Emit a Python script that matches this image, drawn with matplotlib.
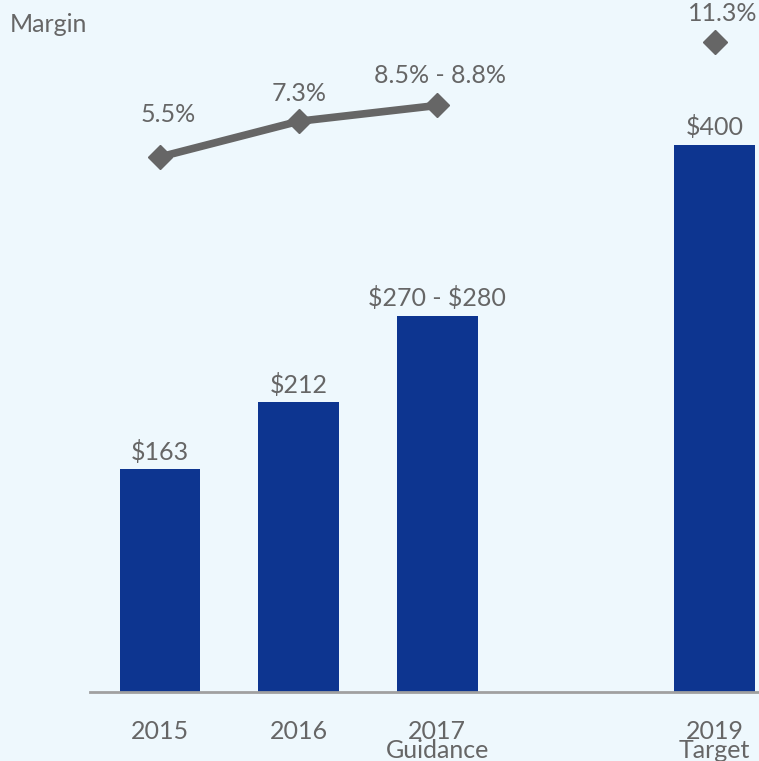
import matplotlib
matplotlib.use('Agg')
import matplotlib.pyplot as plt

# chart data
years = ['2015', '2016', '2017\nGuidance', '2019\nTarget']
positions = [0, 1, 2, 4]
ebitda = [163, 212, 275, 400]
ebitda_labels = [r'\$163', r'\$212', r'\$270 - \$280', r'\$400']
margin = [5.5, 7.3, 8.1, 11.3]
margin_labels = ['5.5%', '7.3%', '8.5% - 8.8%', '11.3%']

BG = '#EEF8FD'
BAR = '#0D3590'
GREY = '#666666'
FS = 18

plt.rcParams['font.family'] = ['Lato', 'DejaVu Sans']

fig = plt.figure(figsize=(7.59, 7.61), dpi=100, facecolor=BG)
ax = fig.add_axes([90 / 759, 69 / 761, 669 / 759, 692 / 761])
ax.set_facecolor(BG)

ax.bar(positions, ebitda, width=0.58, color=BAR, zorder=2)
for x, v, t in zip(positions, ebitda, ebitda_labels):
    ax.annotate(t, (x, v), xytext=(0, 4), textcoords='offset points',
                ha='center', va='bottom', fontsize=FS, color=GREY)

ax.set_xlim(-0.505, 4.32)
ax.set_ylim(0, 506)
ax.set_yticks([])
ax.set_xticks(positions)
ax.set_xticklabels(years, fontsize=FS, color=GREY, linespacing=0.8, va='top')
ax.tick_params(axis='x', length=0, pad=20)
for s in ['top', 'right', 'left']:
    ax.spines[s].set_visible(False)
ax.spines['bottom'].set_color('#A0A0A0')
ax.spines['bottom'].set_linewidth(2)

# margin line on a second axis
ax2 = ax.twinx()
ax2.set_ylim(-21.5, 13.42)
ax2.axis('off')
ax2.plot(positions[:3], margin[:3], color=GREY, lw=5.5, marker='D', ms=12,
         solid_capstyle='round', zorder=3)
ax2.plot(positions[3:], margin[3:], color=GREY, lw=0, marker='D', ms=12)
offsets = [(6, 22), (0, 12), (2, 13), (6, 12)]
for x, v, t, off in zip(positions, margin, margin_labels, offsets):
    ax2.annotate(t, (x, v), xytext=off, textcoords='offset points',
                 ha='center', va='bottom', fontsize=FS, color=GREY,
                 annotation_clip=False)

fig.text(10 / 759, 1 - 24 / 761, 'Margin', fontsize=FS, color=GREY,
         ha='left', va='center')

fig.savefig('out.png', dpi=100, facecolor=BG)
